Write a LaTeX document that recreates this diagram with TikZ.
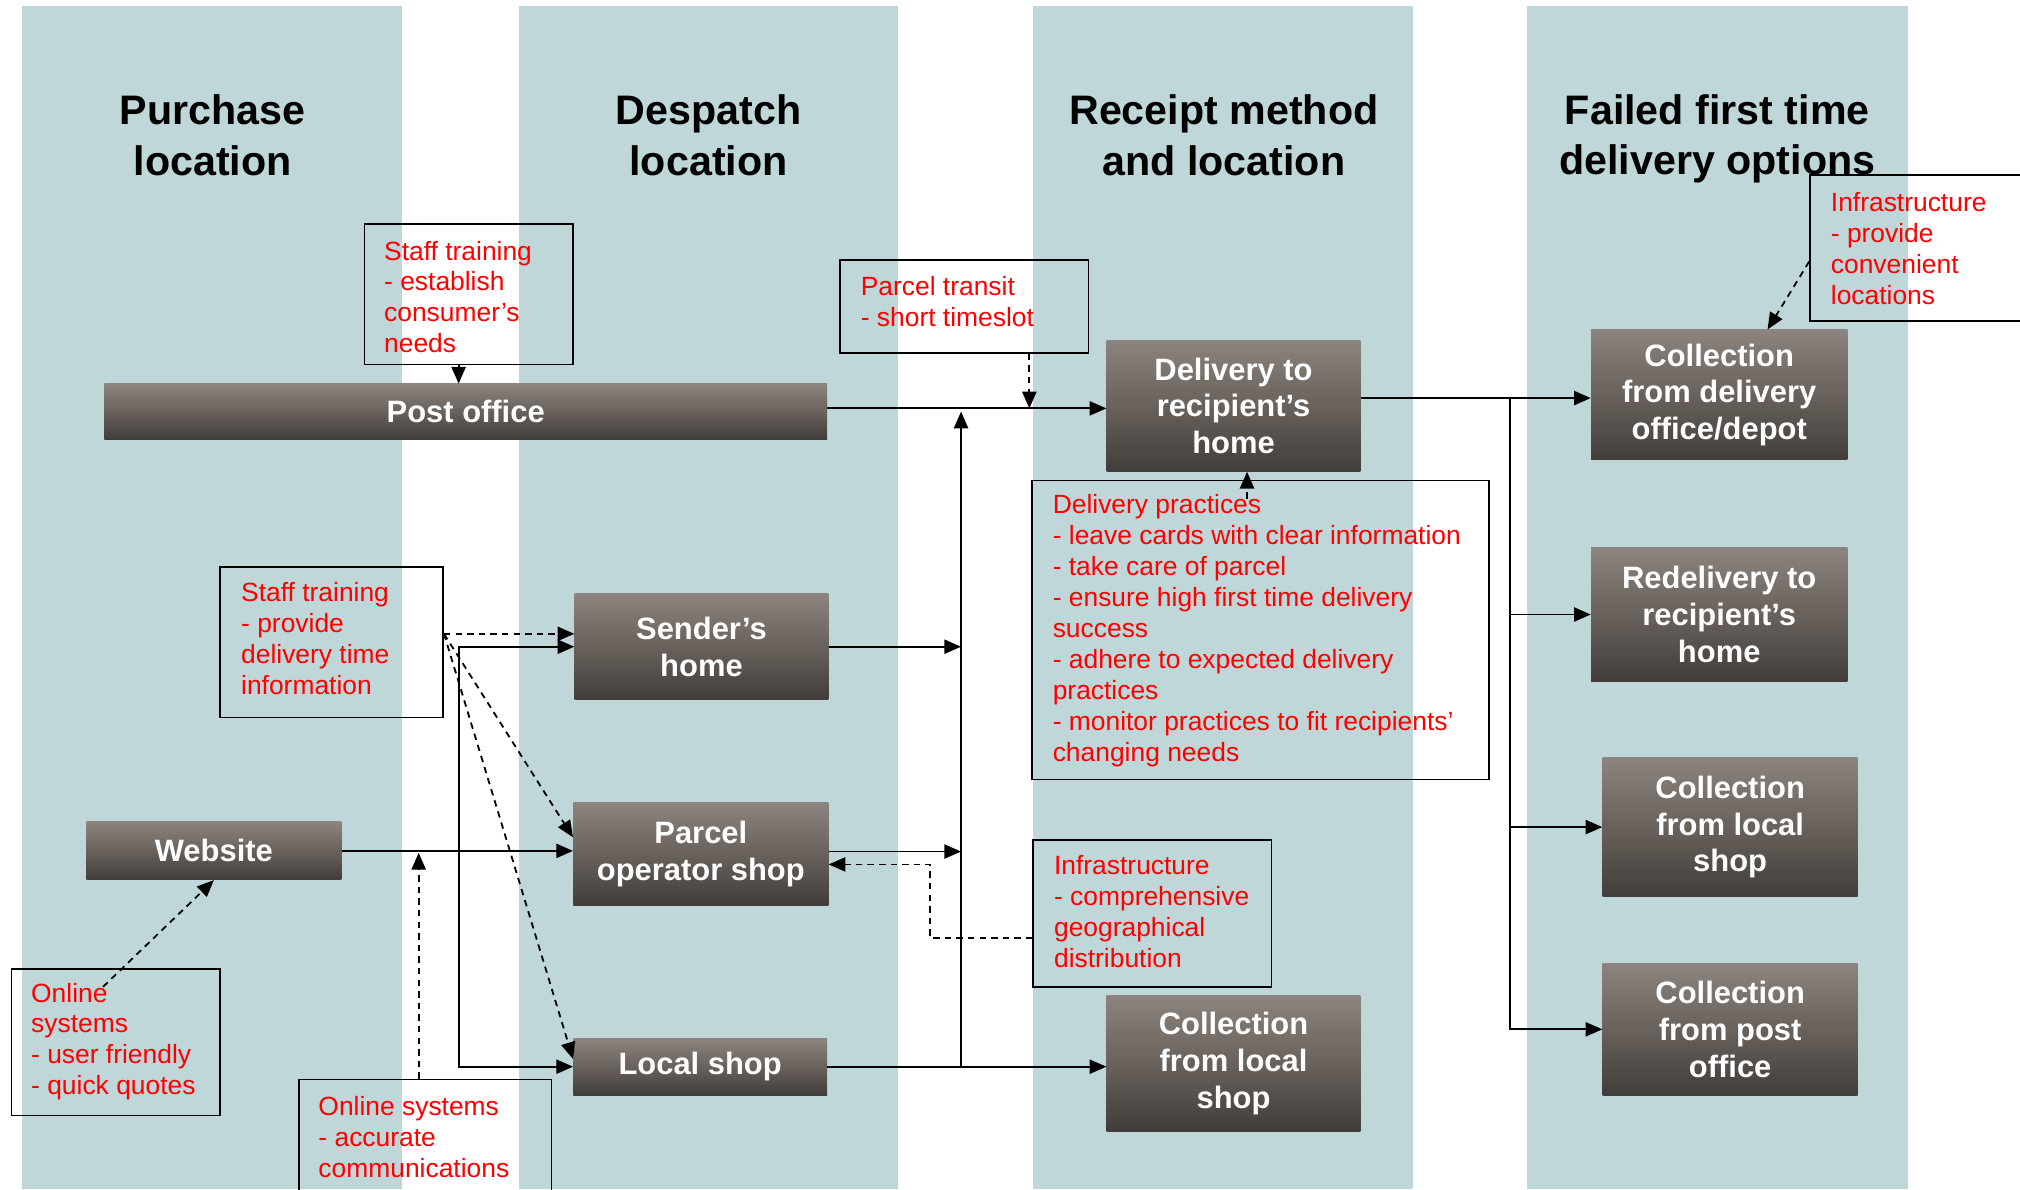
\documentclass[tikz,border=0pt]{standalone}
\usepackage{fontspec}
\setmainfont{Liberation Sans}
\usetikzlibrary{arrows.meta}
\definecolor{colfill}{RGB}{192,215,217}
\definecolor{gtop}{RGB}{140,132,126}
\definecolor{gmid}{RGB}{104,97,92}
\definecolor{gbot}{RGB}{66,61,58}
\definecolor{redtext}{RGB}{255,0,0}
\begin{document}
\begin{tikzpicture}[x=1pt,y=-1pt,
 gbox/.style={rectangle, inner sep=0pt, top color=gtop, bottom color=gbot, middle color=gmid, text=white, font=\bfseries\fontsize{24}{28.5}\selectfont, align=center},
 abox/.style={rectangle, draw=black, line width=1.3pt, inner sep=0pt},
 atext/.style={inner sep=0pt, anchor=west, align=left, text=redtext, font=\fontsize{20.5}{24}\selectfont},
 coltitle/.style={font=\bfseries\fontsize{32}{39}\selectfont, align=center, inner sep=0pt},
 arr/.style={line width=1.4pt, -{Triangle[length=13pt,width=11pt]}},
 darr/.style={arr, dash pattern=on 5pt off 4pt}]
\useasboundingbox (0,0) rectangle (1568,923);
\clip (0,0) rectangle (1568,923);
\fill[white] (0,0) rectangle (1568,923);
% columns
\foreach \xa/\xb in {17/312,403/697,802/1097,1185/1481}{
  \fill[colfill] (\xa,5) rectangle (\xb,923);
}
% titles
\node[coltitle] (t1) at (165,105) {Purchase\\location};
\node[coltitle] (t2) at (550,105) {Despatch\\location};
\node[coltitle] (t3) at (950,105) {Receipt method\\and location};
\node[coltitle] (t4) at (1333,107.5) {Failed first time\\delivery options};
% grey boxes
\node[gbox, minimum width=561pt, minimum height=43pt] (post) at (361.5,319.5) {Post office};
\node[gbox, minimum width=197pt, minimum height=102pt] (deliv) at (957.5,315) {Delivery to\\recipient’s\\home};
\node[gbox, minimum width=197pt, minimum height=82pt] (sender) at (544.5,502) {Sender’s\\home};
\node[gbox, minimum width=198pt, minimum height=80pt] (poshop) at (544,663) {Parcel\\operator shop};
\node[gbox, minimum width=198pt, minimum height=45pt] (web) at (166,660.5) {Website};
\node[gbox, minimum width=197pt, minimum height=44pt] (local) at (543.5,828) {Local shop};
\node[gbox, minimum width=197pt, minimum height=105pt] (colL3) at (957.5,825.5) {Collection\\from local\\shop};
\node[gbox, minimum width=199pt, minimum height=101pt] (depot) at (1334.5,306.5) {Collection\\from delivery\\office/depot};
\node[gbox, minimum width=199pt, minimum height=104pt] (redel) at (1334.5,477) {Redelivery to\\recipient’s\\home};
\node[gbox, minimum width=198pt, minimum height=108pt] (colL4) at (1343,642) {Collection\\from local\\shop};
\node[gbox, minimum width=198pt, minimum height=102pt] (colPO4) at (1343,799) {Collection\\from post\\office};
% annotation boxes
\node[abox, minimum width=162pt, minimum height=109pt] (staffT) at (364,228.5) {};
\node[atext] (staffTt) at (298,230.5) {Staff training\\- establish\\consumer’s\\needs};
\node[abox, minimum width=193pt, minimum height=72pt] (transit) at (748.5,238) {};
\node[atext] (transitt) at (668,234) {Parcel transit\\- short timeslot};
\node[abox, minimum width=173pt, minimum height=117pt] (staffL) at (257.5,498.5) {};
\node[atext] (staffLt) at (187,495.5) {Staff training\\- provide\\delivery time\\information};
\node[abox, minimum width=355pt, minimum height=232pt] (dprac) at (978.5,489) {};
\node[atext] (dpract) at (817,489.5) {Delivery practices\\- leave cards with clear information\\- take care of parcel\\- ensure high first time delivery\\success\\- adhere to expected delivery\\practices\\- monitor practices to fit recipients’\\changing needs};
\node[abox, minimum width=185pt, minimum height=114pt] (infra3) at (894.5,709) {};
\node[atext] (infra3t) at (818,707.5) {Infrastructure\\- comprehensive\\geographical\\distribution};
\node[abox, minimum width=195pt, minimum height=113pt] (infraTR) at (1502.5,192.5) {};
\node[atext] (infraTRt) at (1421,193) {Infrastructure\\- provide\\convenient\\locations};
\node[abox, minimum width=162pt, minimum height=114pt] (onlineL) at (90,809) {};
\node[atext] (onlineLt) at (24,808.5) {Online\\systems\\- user friendly\\- quick quotes};
\node[abox, minimum width=196pt, minimum height=122pt] (onlineB) at (330,899) {};
\node[atext] (onlineBt) at (247,882.5) {Online systems\\- accurate\\communications};
% connectors
\coordinate (cST) at (356,0);
\draw[arr] (staffT.south -| cST) -- (post.north -| cST);
\coordinate (cTR) at (799,317);
\draw[darr] (transit.south -| cTR) -- (cTR);
\coordinate (cPL) at (0,317);
\draw[arr] (post.east |- cPL) -- (deliv.west |- cPL);
\coordinate (spT) at (746,319.5);
\coordinate (spB) at (746,828);
\draw[arr] (spB) -- (spT);
\draw[arr] (sender.east) -- (sender.east -| spB);
\coordinate (cPS) at (0,661);
\draw[arr] (poshop.east |- cPS) -- (spB |- cPS);
\draw[arr] (local.east) -- (local.east -| colL3.west);
\draw[arr] (web.east) -- (web.east -| poshop.west);
\coordinate (lvm) at (356,660.5);
\draw[arr] (lvm) |- (sender.west);
\draw[arr] (lvm) |- (local.west);
\coordinate (cOB) at (325,662);
\draw[darr] (onlineB.north -| cOB) -- (cOB);
\coordinate (cOL) at (80,766);
\draw[darr] (cOL) -- (web.south);
\coordinate (cSLy) at (0,492);
\coordinate (cSLp) at (0,650);
\coordinate (cSLl) at (0,822);
\draw[darr] (staffL.east |- cSLy) -- (sender.west |- cSLy);
\draw[darr] (staffL.east |- cSLy) -- (poshop.west |- cSLp);
\draw[darr] (staffL.east |- cSLy) -- (local.west |- cSLl);
\coordinate (cI1) at (0,728);
\coordinate (cI2) at (722,671);
\draw[darr] (infra3.west |- cI1) -| (cI2) -- (poshop.east |- cI2);
\coordinate (cDP) at (968,387);
\draw[darr] (cDP) -- (cDP |- deliv.south);
\coordinate (cD) at (0,309);
\coordinate (rs) at (1172,309);
\draw[arr] (deliv.east |- cD) -- (depot.west |- cD);
\draw[arr] (rs) |- (redel.west);
\draw[arr] (rs) |- (colL4.west);
\draw[arr] (rs) |- (colPO4.west);
\coordinate (cIT) at (0,203);
\coordinate (cIT2) at (1372,0);
\draw[darr] (infraTR.west |- cIT) -- (depot.north -| cIT2);
\end{tikzpicture}
\end{document}
